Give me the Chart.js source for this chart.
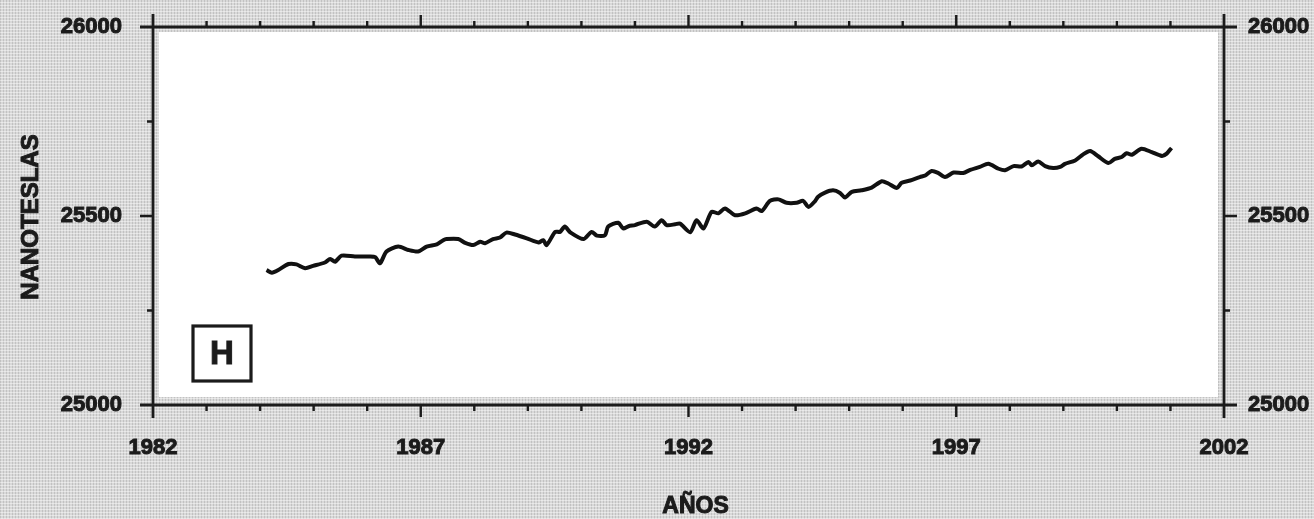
<!DOCTYPE html>
<html>
<head>
<meta charset="utf-8">
<script src="https://cdn.jsdelivr.net/npm/chart.js@4/dist/chart.umd.min.js"></script>
<style>
  html, body { margin: 0; padding: 0; }
  body {
    width: 1314px; height: 519px; overflow: hidden;
    background-color: #d9d9d9;
    background-image:
      repeating-linear-gradient(0deg, rgba(255,255,255,0.45) 0px, rgba(255,255,255,0.45) 1px, transparent 1px, transparent 3px),
      repeating-linear-gradient(90deg, rgba(150,150,150,0.35) 0px, rgba(150,150,150,0.35) 1px, transparent 1px, transparent 3px);
  }
  #wrap { position: relative; width: 1314px; height: 519px; }
</style>
</head>
<body>
<div id="wrap"><canvas id="c"></canvas></div>
<script>
// ---- data ----
const years = [
  1984.12,1984.22,1984.34,1984.53,1984.68,1984.84,1984.99,1985.21,1985.31,1985.40,
  1985.52,1985.77,1986.05,1986.15,1986.24,1986.36,1986.58,1986.77,1986.95,1987.11,
  1987.30,1987.42,1987.48,1987.70,1987.83,1987.98,1988.11,1988.20,1988.35,1988.48,
  1988.60,1988.76,1988.98,1989.20,1989.29,1989.35,1989.51,1989.60,1989.69,1989.79,
  1990.04,1990.19,1990.29,1990.44,1990.50,1990.69,1990.78,1990.88,1991.00,1991.22,
  1991.37,1991.50,1991.59,1991.75,1991.84,1992.03,1992.15,1992.28,1992.43,1992.56,
  1992.68,1992.87,1993.06,1993.27,1993.37,1993.52,1993.68,1993.83,1994.02,1994.14,
  1994.24,1994.36,1994.42,1994.55,1994.70,1994.83,1994.92,1995.05,1995.23,1995.42,
  1995.61,1995.73,1995.89,1995.98,1996.14,1996.32,1996.42,1996.54,1996.66,1996.79,
  1996.95,1997.13,1997.26,1997.44,1997.60,1997.79,1997.91,1998.07,1998.22,1998.35,
  1998.41,1998.53,1998.66,1998.81,1998.94,1999.03,1999.22,1999.37,1999.50,1999.65,
  1999.84,1999.96,2000.09,2000.18,2000.28,2000.46,2000.65,2000.84,2000.93,2001.02
];
const hValues = [
  25357,25350,25357,25373,25372,25362,25368,25377,25386,25379,
  25395,25393,25393,25391,25375,25406,25419,25410,25406,25419,
  25425,25436,25439,25439,25429,25423,25432,25428,25439,25443,
  25456,25451,25441,25430,25436,25423,25458,25458,25472,25457,
  25439,25458,25448,25449,25472,25482,25467,25473,25476,25485,
  25472,25489,25476,25478,25480,25457,25489,25467,25511,25507,
  25520,25502,25507,25520,25513,25540,25544,25535,25535,25540,
  25524,25539,25551,25562,25568,25561,25549,25564,25568,25575,
  25592,25586,25574,25588,25594,25603,25607,25619,25614,25603,
  25615,25614,25622,25630,25638,25625,25621,25632,25631,25643,
  25634,25644,25632,25627,25630,25638,25647,25663,25672,25658,
  25640,25651,25656,25666,25662,25678,25669,25659,25665,25680
];
const xRange = [1982, 2002];
const xLabelYears = [1982, 1987, 1992, 1997, 2002];
const yRange = [25000, 26000];
const yLabelValues = [25000, 25500, 26000];
const panelLetter = 'H';
const yTitle = 'NANOTESLAS';
const xTitle = 'AÑOS';

// ---- drawing ----
const FONT = "'Liberation Sans', Arial, sans-serif";
const INK = '#1b1b1b';

function heavyText(ctx, text, x, y, size, rot) {
  ctx.save();
  ctx.translate(x, y);
  if (rot) ctx.rotate(rot);
  ctx.font = `bold ${size}px ${FONT}`;
  ctx.textAlign = 'center';
  ctx.textBaseline = 'middle';
  ctx.fillStyle = INK;
  ctx.strokeStyle = INK;
  ctx.lineWidth = 1;
  ctx.strokeText(text, 0, 0);
  ctx.fillText(text, 0, 0);
  ctx.restore();
}

const framePlugin = {
  id: 'frame',
  beforeDraw(chart) {
    const { ctx, chartArea: a } = chart;
    ctx.save();
    ctx.fillStyle = '#ffffff';
    ctx.fillRect(a.left + 6, a.top + 5, a.right - a.left - 12, a.bottom - a.top - 13);
    ctx.restore();
  },
  afterDraw(chart) {
    const { ctx, chartArea: a, scales } = chart;
    const xs = scales.x, ys = scales.y;
    ctx.save();
    ctx.strokeStyle = INK;
    ctx.lineWidth = 2.8;
    const ext = 13;
    ctx.beginPath();
    ctx.moveTo(a.left, a.top - ext); ctx.lineTo(a.left, a.bottom + ext);
    ctx.moveTo(a.right, a.top - ext); ctx.lineTo(a.right, a.bottom + ext);
    ctx.moveTo(a.left - ext, a.top); ctx.lineTo(a.right + ext, a.top);
    ctx.moveTo(a.left - ext, a.bottom); ctx.lineTo(a.right + ext, a.bottom);
    ctx.stroke();

    ctx.lineWidth = 2.4;
    ctx.beginPath();
    xs.ticks.forEach(t => {
      if (t.value <= xs.min || t.value >= xs.max) return;
      const px = xs.getPixelForValue(t.value);
      const L = xLabelYears.includes(t.value) ? 12 : 6;
      ctx.moveTo(px, a.bottom); ctx.lineTo(px, a.bottom + L);
      ctx.moveTo(px, a.top); ctx.lineTo(px, a.top - L);
    });
    ys.ticks.forEach(t => {
      if (t.value <= ys.min || t.value >= ys.max) return;
      const py = ys.getPixelForValue(t.value);
      const L = yLabelValues.includes(t.value) ? 13 : 6;
      ctx.moveTo(a.left, py); ctx.lineTo(a.left - L, py);
      ctx.moveTo(a.right, py); ctx.lineTo(a.right + L, py);
    });
    ctx.stroke();

    // panel letter box
    const bx = a.left + 40, by = a.bottom - 79, bw = 58, bh = 55;
    ctx.lineWidth = 3.2;
    ctx.strokeRect(bx, by, bw, bh);
    ctx.restore();
    heavyText(ctx, panelLetter, bx + bw / 2, by + bh / 2 + 1, 33, 0);

    // axis titles
    heavyText(ctx, yTitle, 31, (a.top + a.bottom) / 2 + 1, 24, -Math.PI / 2);
    heavyText(ctx, xTitle, (a.left + a.right) / 2 + 7, chart.height - 12, 23, 0);
  }
};

const tickFont = { family: FONT, size: 22, weight: 'bold' };
const tickCommon = { color: INK, font: tickFont, textStrokeColor: INK, textStrokeWidth: 1, autoSkip: false };
const noPad = s => { s.paddingTop = 0; s.paddingBottom = 0; s.paddingLeft = 0; s.paddingRight = 0; };

new Chart(document.getElementById('c'), {
  type: 'line',
  data: {
    datasets: [{
      data: years.map((x, i) => ({ x, y: hValues[i] })),
      borderColor: '#111111',
      borderWidth: 4,
      pointRadius: 0,
      tension: 0.25,
      fill: false
    }]
  },
  options: {
    responsive: true,
    maintainAspectRatio: false,
    animation: false,
    layout: { padding: { top: 27, left: 0, right: 0, bottom: 0 } },
    plugins: { legend: { display: false }, tooltip: { enabled: false } },
    scales: {
      x: {
        type: 'linear', position: 'bottom',
        min: xRange[0], max: xRange[1],
        border: { display: false },
        grid: { display: false, drawTicks: false },
        ticks: Object.assign({}, tickCommon, {
          stepSize: 1, maxRotation: 0, padding: 30,
          callback: v => xLabelYears.includes(v) ? String(v) : ''
        }),
        afterFit: s => { s.height = 519 - 405; noPad(s); }
      },
      y: {
        type: 'linear', position: 'left',
        min: yRange[0], max: yRange[1],
        border: { display: false },
        grid: { display: false, drawTicks: false },
        ticks: Object.assign({}, tickCommon, {
          stepSize: 250, padding: 31,
          callback: v => yLabelValues.includes(v) ? String(v) : ''
        }),
        afterFit: s => { s.width = 153; noPad(s); }
      },
      y2: {
        type: 'linear', position: 'right',
        min: yRange[0], max: yRange[1],
        border: { display: false },
        grid: { display: false, drawTicks: false },
        ticks: Object.assign({}, tickCommon, {
          stepSize: 250, padding: 24,
          callback: v => yLabelValues.includes(v) ? String(v) : ''
        }),
        afterFit: s => { s.width = 1314 - 1224; noPad(s); }
      }
    }
  },
  plugins: [framePlugin]
});
</script>
</body>
</html>
